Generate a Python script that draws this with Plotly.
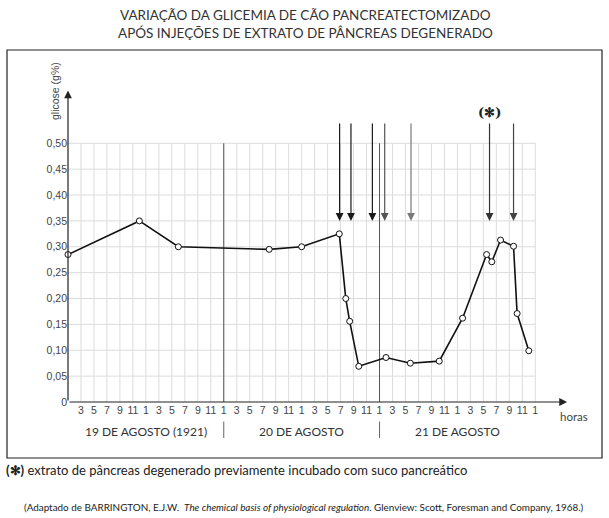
import plotly.graph_objects as go

# ---------------- data ----------------
hours = [1, 12, 18, 32, 37, 42.8, 43.8, 44.4, 45.8, 50, 53.75, 58.2, 61.8,
         65.5, 66.3, 67.65, 69.65, 70.2, 72]
glucose = [0.285, 0.35, 0.30, 0.295, 0.30, 0.325, 0.20, 0.156, 0.069, 0.086,
           0.075, 0.079, 0.162, 0.285, 0.271, 0.313, 0.301, 0.171, 0.099]

injection_hours = [42.85, 44.6, 47.9, 49.8, 53.85, 65.95, 69.65]
injection_colors = ["#1a1a1a", "#1a1a1a", "#1a1a1a", "#555555", "#7a7a7a", "#333333", "#444444"]
starred_injection = 65.95

x_tick_vals = list(range(3, 74, 2))
x_tick_text = [str(((h - 1) % 12) + 1) for h in x_tick_vals]
y_tick_vals = [0, 0.05, 0.10, 0.15, 0.20, 0.25, 0.30, 0.35, 0.40, 0.45, 0.50]
y_tick_text = ["0", "0,05", "0,10", "0,15", "0,20", "0,25", "0,30", "0,35", "0,40", "0,45", "0,50"]

day_labels = ["19 DE AGOSTO (1921)", "20 DE AGOSTO", "21 DE AGOSTO"]
day_centers = [13, 37, 61]
day_boundaries = [25, 49]

title_lines = ["VARIAÇÃO DA GLICEMIA DE CÃO PANCREATECTOMIZADO",
               "APÓS INJEÇÕES DE EXTRATO DE PÂNCREAS DEGENERADO"]
footnote = "<b>(✻)</b> extrato de pâncreas degenerado previamente incubado com suco pancreático"
source = ("(Adaptado de BARRINGTON, E.J.W.  <i>The chemical basis of physiological regulation</i>. "
          "Glenview: Scott, Foresman and Company, 1968.)")

# ---------------- layout geometry ----------------
W, H = 609, 518
ML, MR, MT, MB = 68, 29, 60, 116
PW, PH = W - ML - MR, H - MT - MB
PX_PER_H = 6.49
PX_PER_UNIT = 517.4
X_RANGE = [1, 1 + PW / PX_PER_H]
Y_RANGE = [0, PH / PX_PER_UNIT]
X_END, Y_TOP = 73, 0.50


def px(xp):
    return (xp - ML) / PW


def py(yp):
    return (H - MB - yp) / PH


sans = "Lato"
tick_font = dict(family="Liberation Sans, Arial", size=10.5, color="#444")

fig = go.Figure()

fig.add_trace(go.Scatter(
    x=hours, y=glucose, mode="lines+markers",
    line=dict(color="#111", width=1.6),
    marker=dict(size=6, color="white", line=dict(color="#111", width=1)),
    cliponaxis=False, hoverinfo="skip", showlegend=False,
))

shapes = []
# grid
for v in y_tick_vals[1:]:
    shapes.append(dict(type="line", xref="x", yref="y", x0=1, x1=X_END, y0=v, y1=v,
                       line=dict(color="#dcdcdc", width=1), layer="below"))
for h in x_tick_vals:
    shapes.append(dict(type="line", xref="x", yref="y", x0=h, x1=h, y0=0, y1=Y_TOP,
                       line=dict(color="#dcdcdc", width=1), layer="below"))
# day boundaries
for b in day_boundaries:
    shapes.append(dict(type="line", xref="x", yref="y", x0=b, x1=b, y0=0, y1=Y_TOP,
                       line=dict(color="#555", width=1), layer="below"))
    shapes.append(dict(type="line", xref="x", yref="paper", x0=b, x1=b, y0=py(421.5), y1=py(438),
                       line=dict(color="#666", width=1)))
# frame
shapes.append(dict(type="rect", xref="paper", yref="paper", x0=px(7), x1=px(602), y0=py(458), y1=py(50),
                   line=dict(color="#222", width=1.2)))


def label(x, y, text, font, xref="paper", yref="paper", xanchor="center", **kw):
    return dict(x=x, y=y, xref=xref, yref=yref, text=text, showarrow=False, font=font,
                xanchor=xanchor, yanchor="middle", **kw)


annotations = []
# axes with arrows
annotations.append(dict(x=1, y=0.602, ax=1, ay=0, xref="x", yref="y", axref="x", ayref="y",
                        showarrow=True, arrowhead=2, arrowsize=1.3, arrowwidth=1.2, arrowcolor="#222", text=""))
annotations.append(dict(x=77.9, y=0, ax=1, ay=0, xref="x", yref="y", axref="x", ayref="y",
                        showarrow=True, arrowhead=2, arrowsize=1.3, arrowwidth=1.2, arrowcolor="#222", text=""))
# injections
for h, c in zip(injection_hours, injection_colors):
    annotations.append(dict(x=h, y=0.350, ax=h, ay=0.541, xref="x", yref="y", axref="x", ayref="y",
                            showarrow=True, arrowhead=2, arrowsize=1.3, arrowwidth=1.2, arrowcolor=c, text=""))
annotations.append(label(starred_injection, py(113), "<b>(✻)</b>",
                         dict(family="DejaVu Serif", size=13, color="#222"), xref="x"))
# titles
for i, t in enumerate(title_lines):
    annotations.append(label(px(305), py(15 + 18 * i), t, dict(family=sans, size=13.5, color="#333")))
# y-axis title
annotations.append(label(px(55), py(91), "glicose (g%)",
                         dict(family="Liberation Sans, Arial", size=10.5, color="#444"), textangle=-90))
annotations.append(label(px(574), py(417), "horas", dict(family=sans, size=11.5, color="#444")))
# day labels
for lab, c in zip(day_labels, day_centers):
    annotations.append(label(c, py(431.5), lab, dict(family=sans, size=12, color="#333"), xref="x"))
# footnotes
annotations.append(label(px(4), py(470), footnote, dict(family=sans, size=13, color="#222"), xanchor="left"))
annotations.append(label(px(22), py(507), source, dict(family=sans, size=9.9, color="#222"), xanchor="left"))

fig.update_layout(
    width=W, height=H, margin=dict(l=ML, r=MR, t=MT, b=MB),
    paper_bgcolor="white", plot_bgcolor="white",
    shapes=shapes, annotations=annotations, showlegend=False,
    xaxis=dict(range=X_RANGE, tickvals=x_tick_vals, ticktext=x_tick_text, showgrid=False,
               zeroline=False, showline=False, ticks="", tickfont=tick_font, tickangle=0, fixedrange=True),
    yaxis=dict(range=Y_RANGE, tickvals=y_tick_vals, ticktext=y_tick_text, showgrid=False,
               zeroline=False, showline=False, ticks="", tickfont=tick_font, fixedrange=True),
)

fig.write_html("out.html", config={"displayModeBar": False},
               post_script="document.body.style.margin='0';document.body.style.overflow='hidden';")
